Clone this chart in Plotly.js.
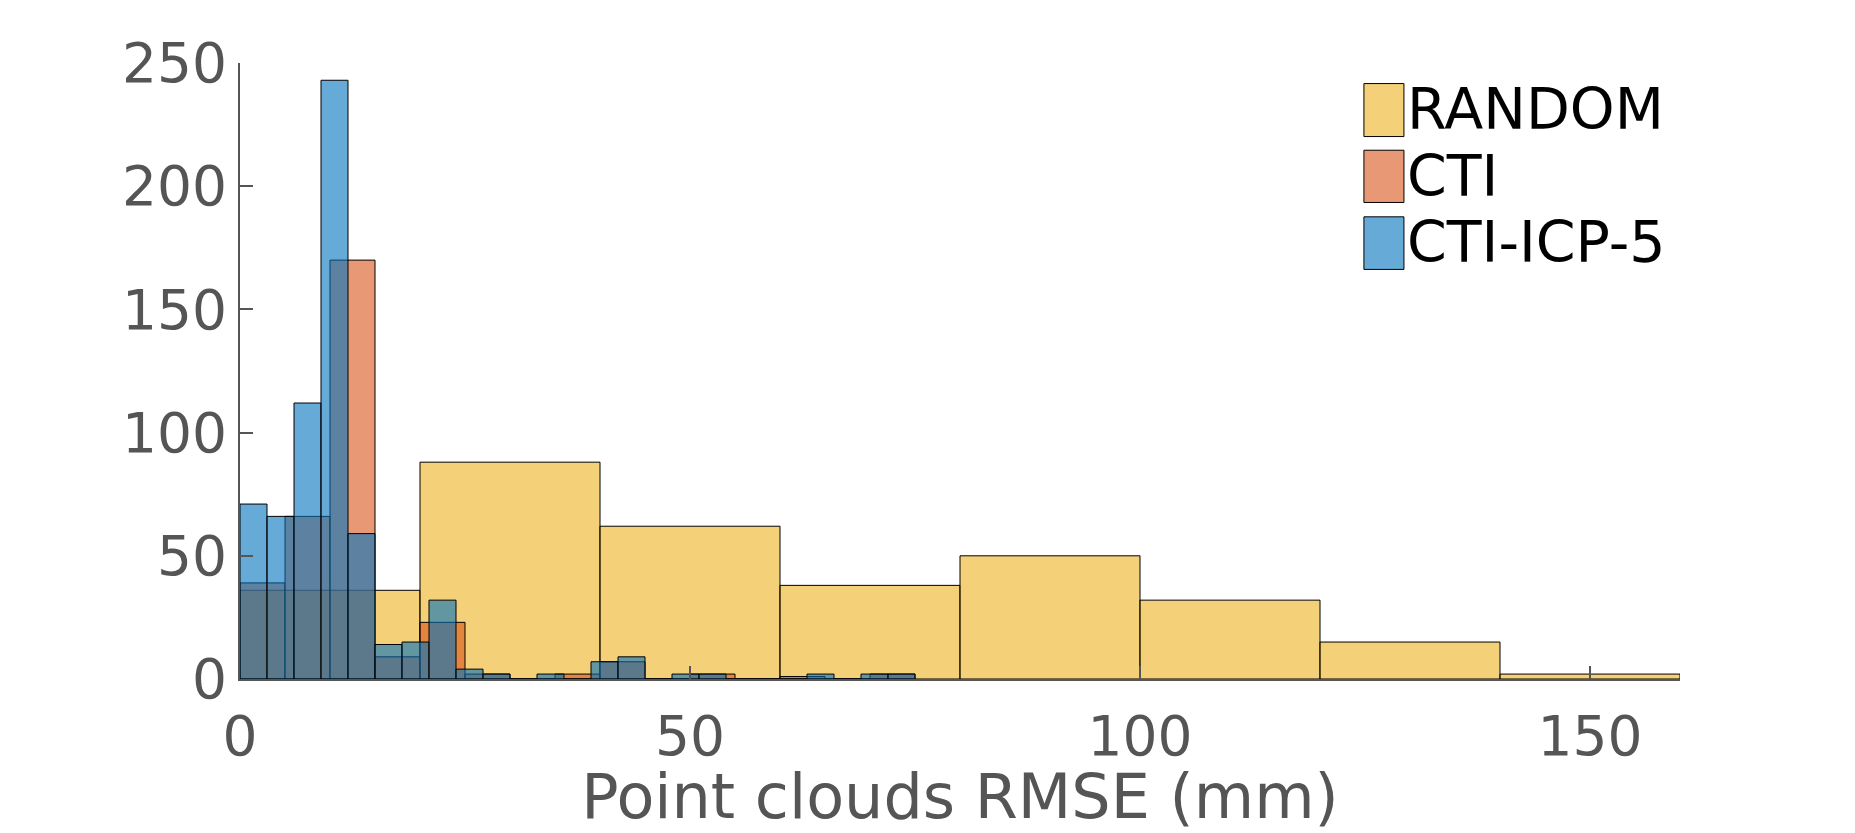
<!DOCTYPE html>
<html>
<head>
<meta charset="utf-8">
<script src="https://cdn.plot.ly/plotly-3.0.1.min.js"></script>
<style>html,body{margin:0;padding:0;background:#fff;}#chart{width:1855px;height:833px;}</style>
</head>
<body>
<div id="chart"></div>
<script>
// Histogram bin edges and counts
const randomEdges = [0, 20, 40, 60, 80, 100, 120, 140, 160];
const randomCounts = [36, 88, 62, 38, 50, 32, 15, 2];

const ctiEdges = [0, 5, 10, 15, 20, 25, 30, 35, 40, 45, 50, 55, 60, 65, 70, 75];
const ctiCounts = [39, 66, 170, 9, 23, 2, 0, 2, 7, 0, 2, 0, 1, 0, 2];

const icpEdges = [0, 3, 6, 9, 12, 15, 18, 21, 24, 27, 30, 33, 36, 39, 42, 45, 48, 51, 54, 57, 60, 63, 66, 69, 72, 75];
const icpCounts = [71, 66, 112, 243, 59, 14, 15, 32, 4, 2, 0, 2, 0, 7, 9, 0, 2, 2, 0, 0, 0, 2, 0, 2, 2];

const seriesNames = ["RANDOM", "CTI", "CTI-ICP-5"];
const xTicks = [0, 50, 100, 150];
const yTicks = [0, 50, 100, 150, 200, 250];

const fills = ["rgba(237,177,32,0.6)", "rgba(217,83,25,0.6)", "rgba(0,114,189,0.6)"];

function histTrace(edges, counts, name, fill) {
  const x = [], w = [];
  for (let i = 0; i < counts.length; i++) {
    x.push((edges[i] + edges[i + 1]) / 2);
    w.push(edges[i + 1] - edges[i]);
  }
  return {
    type: "bar", x: x, y: counts, width: w, name: name,
    marker: {color: fill, line: {color: "#000", width: 1}},
    showlegend: false, hoverinfo: "x+y+name"
  };
}

const data = [
  histTrace(randomEdges, randomCounts, seriesNames[0], fills[0]),
  histTrace(ctiEdges, ctiCounts, seriesNames[1], fills[1]),
  histTrace(icpEdges, icpCounts, seriesNames[2], fills[2])
];

const axisGray = "#555555";
const font = "DejaVu Sans, sans-serif";

// custom legend (large swatches as in the reference)
const legY = [[0.8806, 0.9666, 0.9261], [0.7736, 0.8584, 0.8158], [0.6649, 0.7503, 0.7097]];
const shapes = [], annotations = [];
for (let i = 0; i < 3; i++) {
  shapes.push({type: "rect", xref: "paper", yref: "paper", x0: 0.7805, x1: 0.8083,
    y0: legY[i][0], y1: legY[i][1], fillcolor: fills[i], line: {color: "#000", width: 1}});
  annotations.push({xref: "paper", yref: "paper", x: 0.8088, y: legY[i][2], xanchor: "left", yanchor: "middle",
    text: seriesNames[i], showarrow: false, font: {family: font, size: 57, color: "#000"}});
}

const layout = {
  width: 1855, height: 833,
  margin: {l: 240, r: 175, t: 63, b: 154},
  paper_bgcolor: "#fff", plot_bgcolor: "#fff",
  barmode: "overlay", bargap: 0,
  showlegend: false,
  font: {family: font, color: axisGray},
  xaxis: {
    range: [0, 160], tickvals: xTicks, ticktext: xTicks.map(String),
    ticks: "inside", ticklen: 13, tickwidth: 2, tickcolor: axisGray,
    showline: true, linecolor: axisGray, linewidth: 2, showgrid: false, zeroline: false,
    tickfont: {family: font, size: 55, color: axisGray},
    ticklabelstandoff: 8,
    title: {text: "Point clouds RMSE (mm)", font: {family: font, size: 62, color: axisGray}, standoff: 7},
    automargin: false
  },
  yaxis: {
    range: [0, 250], tickvals: yTicks, ticktext: yTicks.map(String),
    ticks: "inside", ticklen: 13, tickwidth: 2, tickcolor: axisGray,
    showline: true, linecolor: axisGray, linewidth: 2, showgrid: false, zeroline: false,
    tickfont: {family: font, size: 55, color: axisGray},
    ticklabelstandoff: 0,
    automargin: false
  },
  shapes: shapes,
  annotations: annotations
};

Plotly.newPlot("chart", data, layout, {displayModeBar: false, staticPlot: true});
</script>
</body>
</html>
